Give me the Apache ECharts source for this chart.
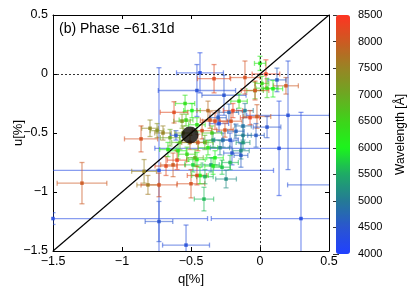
<!DOCTYPE html>
<html>
<head>
<meta charset="utf-8">
<script src="https://cdn.jsdelivr.net/npm/echarts@6/dist/echarts.min.js"></script>
<style>html,body{margin:0;padding:0;background:#fff}#c{width:415px;height:291px}</style>
</head>
<body>
<div id="c"></div>
<script>
// q[%], u[%], q error, u error, wavelength [Å]
const points = [
  [-0.435, 0.01, 0.17, 0.17, 4300],
  [-0.457, -0.14, 0.28, 0.22, 4400],
  [-0.261, -0.18, 0.16, 0.17, 4500],
  [-0.732, -0.817, 0.83, 0.87, 4300],
  [-0.333, -0.04, 0.12, 0.12, 8200],
  [-0.109, -0.03, 0.11, 0.14, 8100],
  [0.043, 0.0, 0.1, 0.12, 8300],
  [0.0, 0.09, 0.04, 0.06, 6200],
  [0.188, -0.1, 0.09, 0.07, 8000],
  [0.123, -0.05, 0.065, 0.1, 4600],
  [0.051, -0.12, 0.08, 0.08, 6400],
  [0.094, -0.125, 0.07, 0.07, 6000],
  [-0.036, -0.14, 0.06, 0.07, 6700],
  [0.014, -0.08, 0.05, 0.06, 6500],
  [-0.036, -0.14, 0.1, 0.08, 8200],
  [0.203, -0.35, 0.3, 0.46, 4400],
  [0.138, -0.63, 0.9, 0.4, 4300],
  [0.297, -1.225, 0.65, 0.9, 4300],
  [0.6, -0.94, 0.4, 0.05, 4400],
  [-1.5, -1.225, 1.12, 0.05, 4300],
  [-0.536, -1.45, 0.17, 0.17, 4400],
  [-0.732, -1.25, 0.1, 0.17, 4500],
  [-0.246, -0.89, 0.075, 0.075, 5200],
  [-0.406, -1.06, 0.07, 0.1, 5600],
  [-0.5, -0.93, 0.1, 0.12, 8100],
  [-1.29, -0.925, 0.18, 0.175, 8000],
  [-0.84, -0.825, 0.09, 0.1, 7500],
  [-0.812, -0.94, 0.08, 0.08, 7600],
  [-0.732, -0.94, 0.13, 0.1, 8100],
  [-0.681, -0.78, 0.08, 0.08, 8200],
  [-0.63, -0.77, 0.09, 0.1, 8000],
  [-0.543, -0.25, 0.07, 0.07, 6300],
  [-0.493, -0.31, 0.06, 0.06, 6000],
  [-0.623, -0.325, 0.1, 0.09, 8200],
  [-0.565, -0.4, 0.06, 0.06, 7200],
  [-0.536, -0.39, 0.05, 0.05, 6500],
  [-0.797, -0.46, 0.06, 0.07, 7400],
  [-0.746, -0.48, 0.05, 0.06, 7300],
  [-0.703, -0.5, 0.06, 0.06, 7500],
  [-0.862, -0.55, 0.12, 0.11, 8100],
  [-0.652, -0.54, 0.07, 0.07, 7000],
  [-0.609, -0.52, 0.04, 0.04, 4500],
  [-0.667, -0.64, 0.06, 0.06, 6200],
  [-0.594, -0.65, 0.06, 0.07, 6100],
  [-0.486, -0.77, 0.06, 0.06, 5800],
  [-0.457, -0.725, 0.06, 0.06, 6000],
  [-0.152, -0.23, 0.06, 0.06, 6300],
  [-0.225, -0.325, 0.07, 0.07, 4700],
  [-0.109, -0.31, 0.06, 0.06, 5000],
  [-0.21, -0.4, 0.08, 0.07, 8100],
  [-0.297, -0.42, 0.07, 0.07, 4400],
  [-0.123, -0.44, 0.06, 0.12, 4900],
  [-0.022, -0.36, 0.1, 0.1, 8000],
  [0.051, -0.45, 0.1, 0.09, 4500],
  [-0.029, -0.52, 0.06, 0.1, 4600],
  [-0.123, -0.52, 0.06, 0.07, 5000],
  [-0.123, -0.58, 0.05, 0.06, 5300],
  [-0.217, -0.56, 0.06, 0.06, 4500],
  [-0.268, -0.56, 0.06, 0.06, 4800],
  [-0.34, -0.56, 0.07, 0.06, 5300],
  [-0.138, -0.65, 0.06, 0.07, 5200],
  [-0.138, -0.69, 0.05, 0.1, 4600],
  [-0.203, -0.67, 0.06, 0.1, 4500],
  [-0.326, -0.71, 0.06, 0.06, 6000],
  [-0.355, -0.77, 0.06, 0.06, 5400],
  [-0.399, -0.87, 0.06, 0.06, 5600],
  [-0.196, -0.31, 0.07, 0.06, 8300],
  [-0.326, -0.4, 0.09, 0.07, 8200],
  [-0.457, -0.43, 0.06, 0.06, 6300],
  [-0.362, -0.39, 0.07, 0.07, 8000],
  [-0.304, -0.37, 0.06, 0.06, 4600],
  [-0.072, -0.37, 0.07, 0.06, 8300],
  [-0.42, -0.48, 0.07, 0.07, 8100],
  [-0.529, -0.68, 0.06, 0.06, 6400],
  [-0.601, -0.73, 0.07, 0.08, 8300],
  [-0.435, -0.86, 0.06, 0.07, 6000],
  [-0.457, -0.86, 0.07, 0.08, 8200],
  [-0.377, -0.625, 0.07, 0.06, 6200],
  [-0.29, -0.625, 0.07, 0.06, 5100],
  [-0.4, -0.58, 0.06, 0.06, 6800],
  [-0.45, -0.58, 0.06, 0.07, 8000],
  [-0.348, -0.5, 0.07, 0.06, 6600],
  [-0.254, -0.475, 0.06, 0.06, 8100],
  [-0.174, -0.485, 0.06, 0.06, 4700],
  [-0.58, -0.58, 0.06, 0.06, 6800],
  [-0.507, -0.58, 0.06, 0.06, 7800],
  [-0.34, -0.78, 0.06, 0.07, 6100],
  [-0.275, -0.79, 0.06, 0.06, 5700],
  [-0.471, -0.71, 0.06, 0.07, 6900],
  [-0.558, -0.5, 0.06, 0.06, 7200],
  [-0.217, -0.75, 0.06, 0.06, 5600],
  [-0.377, -0.31, 0.08, 0.08, 7800]
];
const meanPoint = [[-0.507, -0.517]];
const diagonal = [[-1.5, -1.5], [0.5, 0.5]];
const qTicks = [-1.5, -1, -0.5, 0, 0.5];
const uTicks = [-1.5, -1, -0.5, 0, 0.5];
const wlTicks = [4000, 4500, 5000, 5500, 6000, 6500, 7000, 7500, 8000, 8500];
const wlColors = ['#2040ff', '#2a55d0', '#247a96', '#1eaa66', '#1cf41c', '#3ed41a', '#6ca822', '#988424', '#cc5a22', '#ff3422'];
const titleText = '(b) Phase \u221261.31d';

const FONT = '"Liberation Sans", Arial, sans-serif';
const fmt = v => String(v).replace('-', '\u2212');

const chart = echarts.init(document.getElementById('c'), null, {renderer: 'canvas'});

function errRender(params, api) {
  const q = api.value(0), u = api.value(1), xe = api.value(2), ye = api.value(3);
  const l = api.coord([q - xe, u]);
  const r = api.coord([q + xe, u]);
  const t = api.coord([q, u + ye]);
  const b = api.coord([q, u - ye]);
  const color = api.visual('color');
  const cap = 2.5;
  const st = {stroke: color, lineWidth: 1.3, opacity: 0.55};
  const mk = (x1, y1, x2, y2) => ({type: 'line', shape: {x1, y1, x2, y2}, style: st});
  return {
    type: 'group',
    children: [
      mk(l[0], l[1], r[0], r[1]),
      mk(t[0], t[1], b[0], b[1]),
      mk(l[0], l[1] - cap, l[0], l[1] + cap),
      mk(r[0], r[1] - cap, r[0], r[1] + cap),
      mk(t[0] - cap, t[1], t[0] + cap, t[1]),
      mk(b[0] - cap, b[1], b[0] + cap, b[1])
    ]
  };
}

const axisCommon = {
  min: -1.5, max: 0.5, interval: 0.5,
  axisLine: {show: true, onZero: false, lineStyle: {color: '#000', width: 1}},
  axisTick: {show: true, inside: true, length: 4, lineStyle: {color: '#000'}},
  splitLine: {show: false}
};

const option = {
  animation: false,
  backgroundColor: '#fff',
  textStyle: {fontFamily: FONT},
  title: {
    text: titleText, left: 59, top: 22, padding: 0,
    textStyle: {fontSize: 14, fontWeight: 'normal', color: '#000', fontFamily: FONT}
  },
  grid: [
    {left: 53, top: 15, width: 276, height: 239},
    {left: 336, top: 15, width: 14, height: 239}
  ],
  xAxis: [
    Object.assign({}, axisCommon, {
      gridIndex: 0, position: 'bottom', type: 'value',
      name: 'q[%]', nameLocation: 'middle', nameGap: 22, nameMoveOverlap: false,
      nameTextStyle: {fontSize: 13, color: '#000', fontFamily: FONT},
      axisLabel: {fontSize: 12.5, color: '#000', margin: 4, formatter: fmt, fontFamily: FONT}
    }),
    Object.assign({}, axisCommon, {gridIndex: 0, position: 'top', type: 'value', axisLabel: {show: false}}),
    {gridIndex: 1, type: 'value', min: 0, max: 1, show: false}
  ],
  yAxis: [
    Object.assign({}, axisCommon, {
      gridIndex: 0, position: 'left', type: 'value',
      name: 'u[%]', nameLocation: 'middle', nameGap: 28, nameRotate: 90, nameMoveOverlap: false,
      nameTextStyle: {fontSize: 13, color: '#000', fontFamily: FONT},
      axisLabel: {fontSize: 12.5, color: '#000', margin: 5, formatter: fmt, fontFamily: FONT}
    }),
    Object.assign({}, axisCommon, {gridIndex: 0, position: 'right', type: 'value', axisLabel: {show: false}}),
    {
      gridIndex: 1, type: 'value', position: 'right', min: 4000, max: 8500, interval: 500,
      name: 'Wavelength [\u00c5]', nameLocation: 'middle', nameGap: 45, nameRotate: 90,
      nameTextStyle: {fontSize: 12, color: '#000', fontFamily: FONT},
      axisLine: {show: false},
      axisTick: {show: true, inside: true, length: 3, lineStyle: {color: '#333'}},
      axisLabel: {fontSize: 11, color: '#000', margin: 8, fontFamily: FONT, formatter: v => String(v)},
      splitLine: {show: false}
    },
    {
      gridIndex: 1, type: 'value', position: 'left', min: 4000, max: 8500, interval: 500,
      axisLine: {show: false},
      axisTick: {show: true, inside: true, length: 3, lineStyle: {color: '#333'}},
      axisLabel: {show: false}, splitLine: {show: false}
    }
  ],
  visualMap: {
    type: 'continuous', min: 4000, max: 8500, dimension: 4,
    seriesIndex: [1, 2],
    inRange: {color: wlColors},
    calculable: false, hoverLink: false,
    left: 336, top: 15, itemWidth: 14, itemHeight: 239, padding: 0,
    text: null, showLabel: false,
    textStyle: {color: 'rgba(0,0,0,0)'}
  },
  series: [
    {
      type: 'line', xAxisIndex: 0, yAxisIndex: 0, data: diagonal, symbol: 'none',
      lineStyle: {color: '#000', width: 1.2}, z: 3, silent: true,
      markLine: {
        silent: true, symbol: 'none', label: {show: false},
        lineStyle: {color: '#000', type: [2, 2], width: 0.8},
        data: [{xAxis: 0}, {yAxis: 0}]
      }
    },
    {
      type: 'custom', xAxisIndex: 0, yAxisIndex: 0, data: points,
      renderItem: errRender, clip: true, z: 2
    },
    {
      type: 'scatter', xAxisIndex: 0, yAxisIndex: 0, data: points,
      symbol: 'rect', symbolSize: 3.5, itemStyle: {opacity: 0.9}, z: 4, clip: true
    },
    {
      type: 'scatter', xAxisIndex: 0, yAxisIndex: 0, data: meanPoint,
      symbol: 'circle', symbolSize: 17, itemStyle: {color: '#0a0500'}, z: 5
    },
    {type: 'scatter', xAxisIndex: 2, yAxisIndex: 2, data: [], silent: true}
  ]
};
chart.setOption(option);
</script>
</body>
</html>
